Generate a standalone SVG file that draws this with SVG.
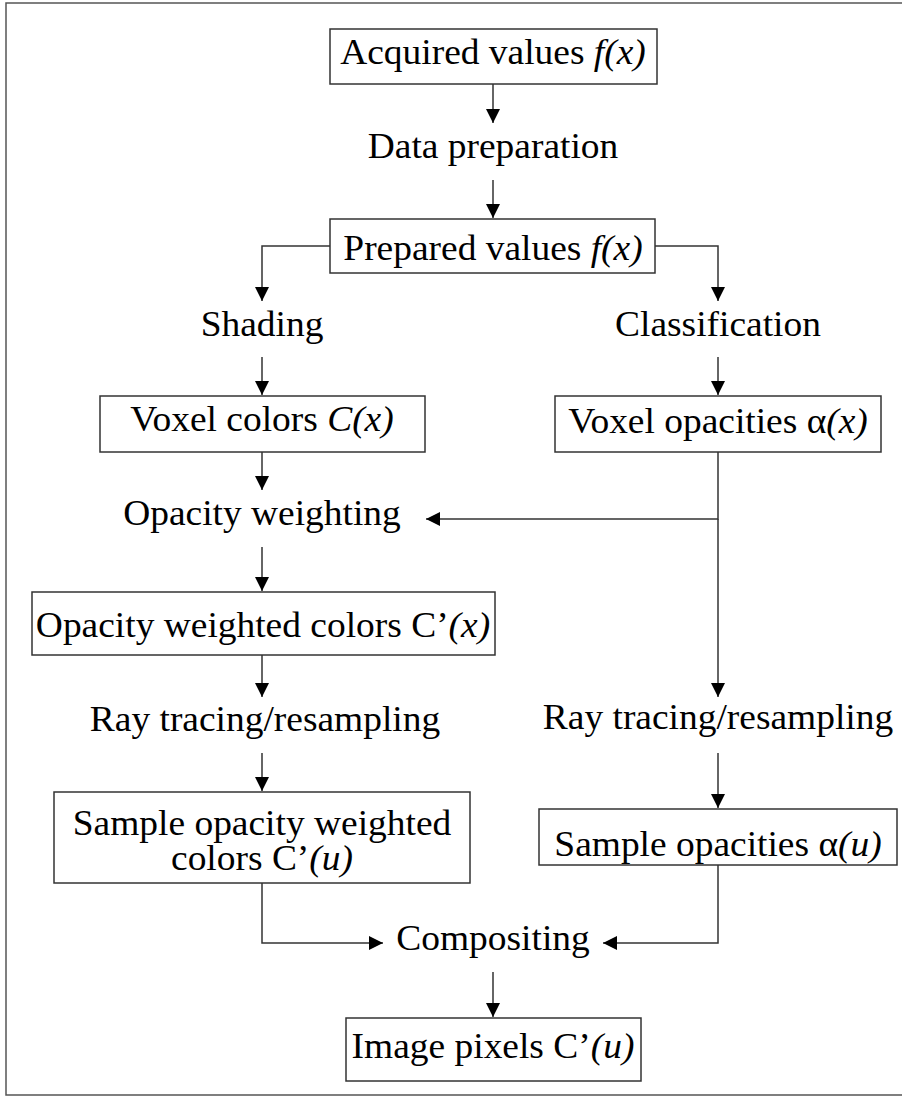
<svg xmlns="http://www.w3.org/2000/svg" width="902" height="1097" viewBox="0 0 902 1097">
  <style>
    .box { fill: #ffffff; stroke: #333333; stroke-width: 1.5; }
    .wire { fill: none; stroke: #333333; stroke-width: 1.5; }
    .lbl { font-family: "Liberation Serif", "Times New Roman", serif; font-size: 35px; fill: #000000; text-anchor: middle; }
    .it { font-style: italic; }
  </style>
  <defs>
    <marker id="head" markerUnits="userSpaceOnUse" markerWidth="14" markerHeight="14" refX="14" refY="7" orient="auto">
      <path d="M0,0 L14,7 L0,14 z" fill="#000000"/>
    </marker>
  </defs>

  <rect width="902" height="1097" fill="#ffffff"/>
  <!-- page frame -->
  <rect x="6" y="3" width="1000" height="1092" fill="none" stroke="#555555" stroke-width="1.5"/>

  <!-- connectors -->
  <g id="connectors" class="wire" marker-end="url(#head)">
    <path d="M493,84 V123"/>
    <path d="M493,180 V218"/>
    <path d="M330,246 H262 V301"/>
    <path d="M655,246 H718 V301"/>
    <path d="M262,357 V395"/>
    <path d="M718,357 V395"/>
    <path d="M262,452 V490"/>
    <path d="M718,452 V519 H426"/>
    <path d="M718,519 V697"/>
    <path d="M262,547 V591"/>
    <path d="M262,655 V697"/>
    <path d="M262,753 V791"/>
    <path d="M718,753 V808"/>
    <path d="M262,883 V943 H383"/>
    <path d="M718,865 V943 H603"/>
    <path d="M493,972 V1017"/>
  </g>

  <g id="acquired">
    <rect class="box" x="330" y="29" width="327" height="55"/>
    <text class="lbl" transform="translate(493,64) scale(1.07,1)">Acquired values <tspan class="it">f(x)</tspan></text>
  </g>

  <g id="data-preparation">
    <text class="lbl" transform="translate(493,158) scale(1.07,1)">Data preparation</text>
  </g>

  <g id="prepared">
    <rect class="box" x="330" y="219" width="325" height="54"/>
    <text class="lbl" transform="translate(493,260) scale(1.07,1)">Prepared values <tspan class="it">f(x)</tspan></text>
  </g>

  <g id="shading">
    <text class="lbl" transform="translate(262,336) scale(1.07,1)">Shading</text>
  </g>

  <g id="classification">
    <text class="lbl" transform="translate(718,336) scale(1.07,1)">Classification</text>
  </g>

  <g id="voxel-colors">
    <rect class="box" x="100" y="396" width="325" height="56"/>
    <text class="lbl" transform="translate(262,431) scale(1.07,1)">Voxel colors <tspan class="it">C(x)</tspan></text>
  </g>

  <g id="voxel-opacities">
    <rect class="box" x="555" y="396" width="326" height="56"/>
    <text class="lbl" transform="translate(718,433) scale(1.07,1)">Voxel opacities α<tspan class="it">(x)</tspan></text>
  </g>

  <g id="opacity-weighting">
    <text class="lbl" transform="translate(262,525) scale(1.07,1)">Opacity weighting</text>
  </g>

  <g id="weighted-colors">
    <rect class="box" x="32" y="592" width="463" height="63"/>
    <text class="lbl" transform="translate(263,637) scale(1.07,1)">Opacity weighted colors C’<tspan class="it">(x)</tspan></text>
  </g>

  <g id="resample-left">
    <text class="lbl" transform="translate(265,731) scale(1.07,1)">Ray tracing/resampling</text>
  </g>

  <g id="resample-right">
    <text class="lbl" transform="translate(718,729) scale(1.07,1)">Ray tracing/resampling</text>
  </g>

  <g id="sample-colors">
    <rect class="box" x="54" y="792" width="416" height="91"/>
    <text class="lbl" transform="translate(262,835) scale(1.07,1)">Sample opacity weighted</text>
    <text class="lbl" transform="translate(262,870) scale(1.07,1)">colors C’<tspan class="it">(u)</tspan></text>
  </g>

  <g id="sample-opacities">
    <rect class="box" x="539" y="809" width="358" height="56"/>
    <text class="lbl" transform="translate(718,856) scale(1.07,1)">Sample opacities α<tspan class="it">(u)</tspan></text>
  </g>

  <g id="compositing">
    <text class="lbl" transform="translate(493,950) scale(1.07,1)">Compositing</text>
  </g>

  <g id="image-pixels">
    <rect class="box" x="346" y="1018" width="295" height="63"/>
    <text class="lbl" transform="translate(493,1058) scale(1.07,1)">Image pixels C’<tspan class="it">(u)</tspan></text>
  </g>
</svg>
